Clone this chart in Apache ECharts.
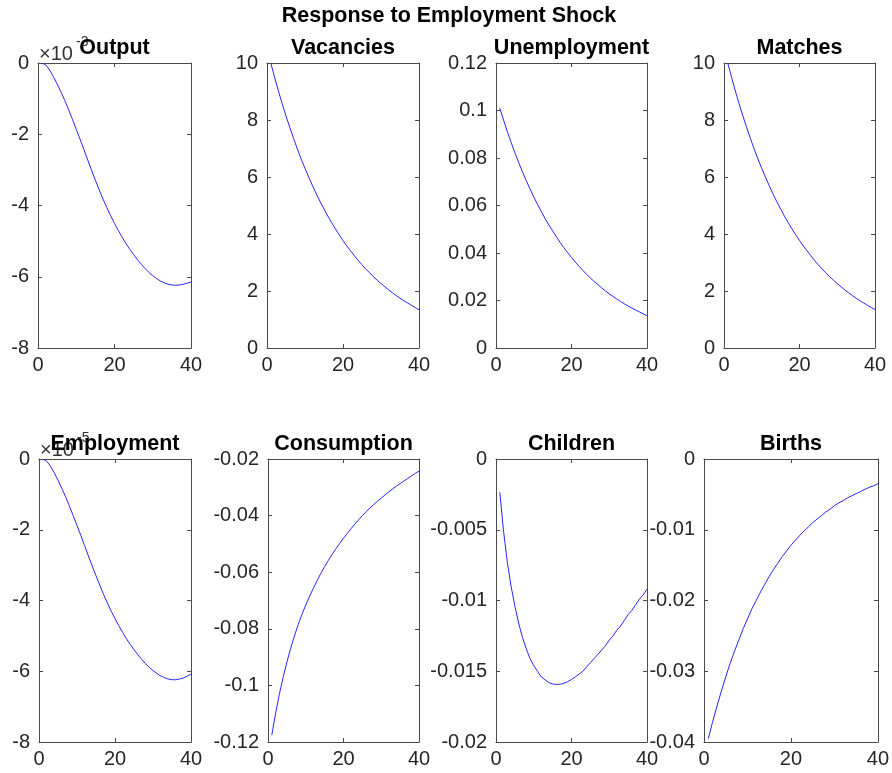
<!DOCTYPE html>
<html>
<head>
<meta charset="utf-8">
<script src="https://cdn.jsdelivr.net/npm/echarts@6/dist/echarts.min.js"></script>
<style>
html,body{margin:0;padding:0;background:#fff;}
#c{width:892px;height:773px;}
</style>
</head>
<body>
<div id="c"></div>
<script>
const periods = [1,2,3,4,5,6,7,8,9,10,11,12,13,14,15,16,17,18,19,20,21,22,23,24,25,26,27,28,29,30,31,32,33,34,35,36,37,38,39,40];

// Output, in units of 10^-3
const output = [0,-0.05,-0.19,-0.38,-0.59,-0.81,-1.05,-1.31,-1.58,-1.86,-2.14,-2.43,-2.72,-3.01,-3.29,-3.56,-3.82,-4.06,-4.29,-4.50,-4.70,-4.89,-5.07,-5.23,-5.38,-5.52,-5.65,-5.77,-5.88,-5.97,-6.05,-6.12,-6.17,-6.21,-6.23,-6.24,-6.23,-6.21,-6.18,-6.15];
const vacancies = [10.0,9.50,9.02,8.57,8.14,7.74,7.35,6.98,6.63,6.30,5.99,5.69,5.40,5.13,4.88,4.63,4.40,4.18,3.97,3.77,3.58,3.41,3.24,3.07,2.92,2.77,2.64,2.50,2.38,2.26,2.15,2.04,1.94,1.84,1.75,1.66,1.58,1.50,1.42,1.34];
const unemployment = [0.1010,0.0960,0.0911,0.0866,0.0822,0.0782,0.0742,0.0705,0.0670,0.0636,0.0605,0.0575,0.0545,0.0518,0.0493,0.0468,0.0444,0.0422,0.0401,0.0381,0.0362,0.0344,0.0327,0.0310,0.0295,0.0280,0.0267,0.0253,0.0240,0.0228,0.0217,0.0206,0.0196,0.0186,0.0177,0.0168,0.0160,0.0152,0.0144,0.0136];
const matches = [10.0,9.50,9.02,8.57,8.14,7.74,7.35,6.98,6.63,6.30,5.99,5.69,5.40,5.13,4.88,4.63,4.40,4.18,3.97,3.77,3.58,3.41,3.24,3.07,2.92,2.77,2.64,2.50,2.38,2.26,2.15,2.04,1.94,1.84,1.75,1.66,1.58,1.50,1.42,1.35];
// Employment, in units of 10^-5
const employment = [0,-0.06,-0.20,-0.39,-0.60,-0.83,-1.07,-1.33,-1.60,-1.88,-2.16,-2.45,-2.74,-3.02,-3.30,-3.57,-3.83,-4.07,-4.30,-4.51,-4.71,-4.90,-5.08,-5.24,-5.39,-5.53,-5.66,-5.78,-5.89,-5.98,-6.06,-6.13,-6.18,-6.22,-6.24,-6.24,-6.22,-6.19,-6.14,-6.08];
const consumption = [-0.1176,-0.1100,-0.1032,-0.0972,-0.0918,-0.0869,-0.0825,-0.0785,-0.0749,-0.0716,-0.0686,-0.0657,-0.0630,-0.0604,-0.0580,-0.0558,-0.0537,-0.0517,-0.0498,-0.0480,-0.0463,-0.0446,-0.0430,-0.0415,-0.0400,-0.0386,-0.0373,-0.0361,-0.0349,-0.0338,-0.0327,-0.0316,-0.0306,-0.0296,-0.0287,-0.0278,-0.0269,-0.0260,-0.0251,-0.0243];
const children = [-0.00235,-0.0051,-0.0073,-0.0090,-0.0104,-0.0116,-0.0126,-0.0134,-0.0141,-0.0146,-0.0150,-0.0154,-0.0156,-0.0158,-0.0159,-0.01593,-0.01592,-0.01585,-0.01573,-0.01558,-0.0154,-0.0152,-0.0150,-0.0147,-0.0144,-0.0141,-0.0138,-0.0135,-0.0132,-0.0128,-0.0125,-0.0121,-0.0118,-0.0114,-0.0110,-0.0107,-0.0103,-0.0099,-0.0096,-0.0092];
const births = [-0.0395,-0.0371,-0.0349,-0.0328,-0.0308,-0.0289,-0.0272,-0.0256,-0.0240,-0.0226,-0.0212,-0.0200,-0.0188,-0.0177,-0.0166,-0.0156,-0.0147,-0.0138,-0.0130,-0.0122,-0.0115,-0.0108,-0.0102,-0.0096,-0.0090,-0.0085,-0.0080,-0.0075,-0.0071,-0.0066,-0.0062,-0.0059,-0.0055,-0.0052,-0.0049,-0.0046,-0.0043,-0.0040,-0.0038,-0.0035];

const mainTitle = 'Response to Employment Shock';
const panelTitles = ['Output','Vacancies','Unemployment','Matches','Employment','Consumption','Children','Births'];
const panelData = [output, vacancies, unemployment, matches, employment, consumption, children, births];
const yMin = [-8, 0, 0, 0, -8, -0.12, -0.02, -0.04];
const yMax = [0, 10, 0.12, 10, 0, -0.02, 0, 0];
const yStep = [2, 2, 0.02, 2, 2, 0.02, 0.005, 0.01];
const exponents = ['-3', null, null, null, '-5', null, null, null];

// layout (px)
const boxes = [
  [38, 63, 153, 285], [267, 63, 152, 285], [496, 63, 151, 285], [724, 63, 151, 285],
  [39, 459, 152, 283], [268, 459, 151, 283], [496, 459, 151, 283], [704, 459, 174, 283]
];

const FONT = '"Liberation Sans", Arial, Helvetica, sans-serif';
const AX = '#4a4a4a';
const TXT = '#262626';

const grid = [], xAxis = [], yAxis = [], series = [], graphic = [];
function fmt(v){
  const r = Math.round(v * 1e6) / 1e6;
  return String(r);
}
boxes.forEach((b, i) => {
  grid.push({left: b[0], top: b[1], width: b[2], height: b[3], containLabel: false});
  const lineStyle = {color: AX, width: 1};
  const tick = {show: true, inside: true, length: 4, lineStyle: {color: AX, width: 1}};
  xAxis.push({type: 'value', gridIndex: i, min: 0, max: 40, interval: 20, position: 'bottom',
    axisLine: {show: true, onZero: false, lineStyle}, axisTick: tick, splitLine: {show: false},
    axisLabel: {show: true, margin: 7, color: TXT, fontSize: 20, fontFamily: FONT}});
  xAxis.push({type: 'value', gridIndex: i, min: 0, max: 40, interval: 20, position: 'top',
    axisLine: {show: true, onZero: false, lineStyle}, axisTick: tick, splitLine: {show: false},
    axisLabel: {show: false}});
  yAxis.push({type: 'value', gridIndex: i, min: yMin[i], max: yMax[i], interval: yStep[i], position: 'left',
    axisLine: {show: true, onZero: false, lineStyle}, axisTick: tick, splitLine: {show: false},
    axisLabel: {show: true, margin: 9, color: TXT, fontSize: 20, fontFamily: FONT, formatter: fmt}});
  yAxis.push({type: 'value', gridIndex: i, min: yMin[i], max: yMax[i], interval: yStep[i], position: 'right',
    axisLine: {show: true, onZero: false, lineStyle}, axisTick: tick, splitLine: {show: false},
    axisLabel: {show: false}});
  series.push({type: 'line', xAxisIndex: 2 * i, yAxisIndex: 2 * i, showSymbol: false, symbol: 'none',
    data: periods.map((p, k) => [p, panelData[i][k]]),
    lineStyle: {color: '#2626ff', width: 1}, silent: true, animation: false});

  const cx = b[0] + b[2] / 2;
  if (exponents[i]) {
    graphic.push({type: 'text', z: 1, x: b[0] + 1, y: b[1] - 9,
      style: {text: '×10', font: '20px ' + FONT, fill: '#333', align: 'left', verticalAlign: 'middle'}});
    graphic.push({type: 'text', z: 1, x: b[0] + 38, y: b[1] - 21,
      style: {text: exponents[i], font: '14px ' + FONT, fill: '#333', align: 'left', verticalAlign: 'middle'}});
  }
  graphic.push({type: 'text', z: 10, x: cx, y: b[1] - 15,
    style: {text: panelTitles[i], font: 'bold 21.5px ' + FONT, fill: '#000', align: 'center', verticalAlign: 'middle'}});
});
graphic.push({type: 'text', z: 10, x: 449, y: 16,
  style: {text: mainTitle, font: 'bold 21.5px ' + FONT, fill: '#000', align: 'center', verticalAlign: 'middle'}});

const chart = echarts.init(document.getElementById('c'), null, {renderer: 'canvas'});
chart.setOption({animation: false, backgroundColor: '#fff', grid, xAxis, yAxis, series, graphic});
</script>
</body>
</html>
